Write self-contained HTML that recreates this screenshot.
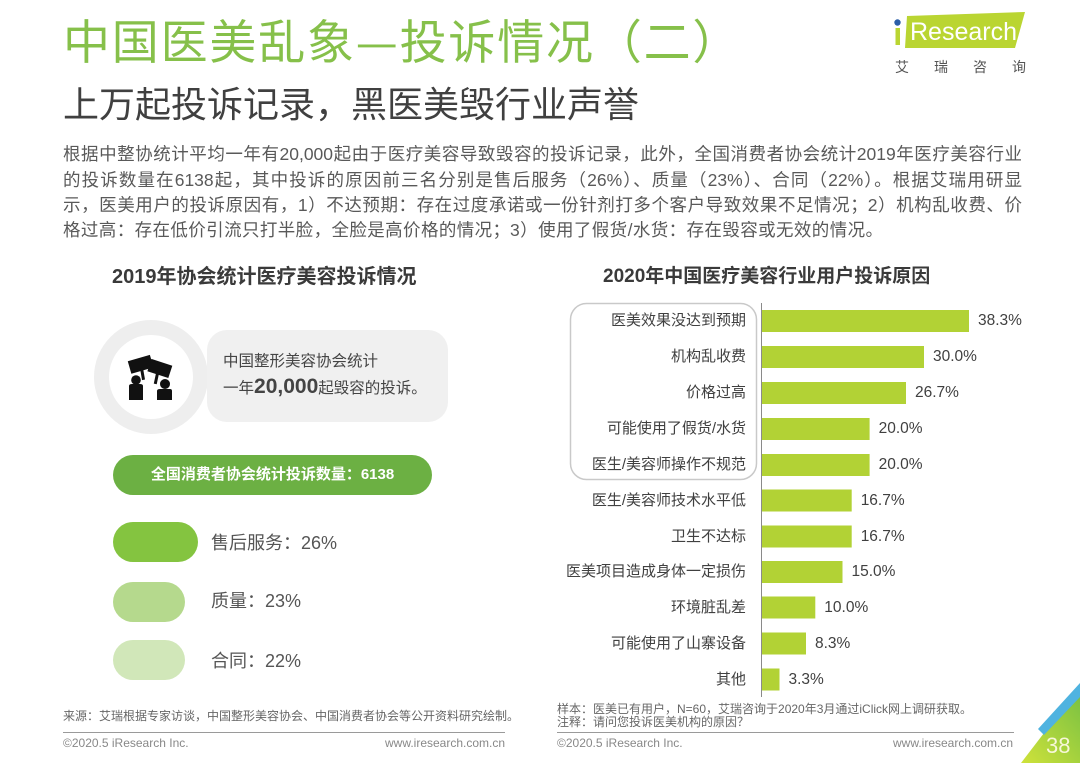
<!DOCTYPE html>
<html><head><meta charset="utf-8">
<style>
html,body{margin:0;padding:0;background:#fff;}
body{width:1080px;height:763px;position:relative;overflow:hidden;font-family:"Liberation Sans","Noto Sans CJK SC",sans-serif;}
.t{position:absolute;white-space:nowrap;}
.p{position:absolute;left:63px;font-size:17.5px;line-height:25.3px;height:25.3px;color:#595959;text-align:justify;text-align-last:justify;overflow:visible;}
.lb{position:absolute;right:334px;font-size:15px;line-height:20px;height:20px;color:#404040;text-align:right;white-space:nowrap;}
.v{position:absolute;font-size:15.5px;line-height:20px;height:20px;color:#404040;white-space:nowrap;}
</style></head><body>
<svg width="1080" height="763" style="position:absolute;left:0;top:0">
  <!-- logo -->
  <polygon points="907,16 1025,12 1015,48 905,48" fill="#bad532"/>
  <rect x="895.5" y="28" width="4.5" height="17" fill="#bad532"/>
  <circle cx="897.5" cy="22.5" r="3.2" fill="#2b5ea8"/>
  <!-- circle + rect -->
  <circle cx="151" cy="377" r="57" fill="#eeeeee"/>
  <circle cx="151" cy="377" r="42" fill="#ffffff"/>
  <rect x="207" y="330" width="241" height="92" rx="20" fill="#f0f0f0"/>
  <!-- icon -->
  <g fill="#111">
    <rect x="129" y="358" width="23" height="13" transform="rotate(-16 140 364)"/>
    <rect x="149" y="362" width="22" height="13" transform="rotate(18 160 368)"/>
    <rect x="141" y="368" width="3" height="12" transform="rotate(-10 142 374)"/>
    <rect x="155" y="372" width="3" height="12" transform="rotate(12 156 378)"/>
    <circle cx="136" cy="380" r="4.8"/>
    <path d="M129 386 q0 -2 3 -2 h8 q3 0 3 2 v14 h-14 z"/>
    <circle cx="165" cy="384" r="5"/>
    <path d="M157 391 q0 -2 3 -2 h10 q2 0 2 2 v9 h-15 z"/>
  </g>
  <!-- pills -->
  <rect x="113" y="455" width="319" height="40" rx="20" fill="#6cb043"/>
  <rect x="113" y="522" width="85" height="40" rx="20" fill="#84c440"/>
  <rect x="113" y="582" width="72" height="40" rx="20" fill="#b5d98d"/>
  <rect x="113" y="640" width="72" height="40" rx="20" fill="#d1e7b9"/>
  <!-- chart -->
  <rect x="570.5" y="303.5" width="186" height="176" rx="16" fill="none" stroke="#c9c9c9" stroke-width="1.5"/>
  <g fill="#b2d235">
    <rect x="761" y="310" width="208" height="22"/>
    <rect x="761" y="346" width="163" height="22"/>
    <rect x="761" y="382" width="145" height="22"/>
    <rect x="761" y="418" width="108.6" height="22"/>
    <rect x="761" y="454" width="108.6" height="22"/>
    <rect x="761" y="489.5" width="90.7" height="22"/>
    <rect x="761" y="525.5" width="90.7" height="22"/>
    <rect x="761" y="561" width="81.5" height="22"/>
    <rect x="761" y="596.5" width="54.3" height="22"/>
    <rect x="761" y="632.5" width="45" height="22"/>
    <rect x="761" y="668.5" width="18.5" height="22"/>
  </g>
  <line x1="761.5" y1="303" x2="761.5" y2="697" stroke="#8a8a8a" stroke-width="1"/>
  <!-- footer lines -->
  <line x1="63" y1="732.5" x2="505" y2="732.5" stroke="#9a9a9a" stroke-width="1"/>
  <line x1="557" y1="732.5" x2="1014" y2="732.5" stroke="#9a9a9a" stroke-width="1"/>
  <!-- corner -->
  <defs><linearGradient id="cg" x1="0" y1="1" x2="1" y2="0">
    <stop offset="0" stop-color="#cfe23a"/><stop offset="1" stop-color="#7cc242"/></linearGradient></defs>
  <polygon points="1044,733 1080,696 1080,763 1021,763" fill="url(#cg)"/>
  <polygon points="1038,729 1080,683 1080,697 1044,735" fill="#4fb3e0"/>
</svg>

<div class="t" style="left:63px;top:8.5px;font-family:'Noto Sans CJK SC',sans-serif;font-size:47px;line-height:60px;color:#86c04a;letter-spacing:1.8px;">中国医美乱象—投诉情况（二）</div>
<div class="t" style="left:63px;top:76.6px;font-family:'Noto Sans CJK SC',sans-serif;font-size:36px;line-height:50px;color:#404040;">上万起投诉记录，黑医美毁行业声誉</div>

<div class="t" style="left:910px;top:16px;font-size:25px;line-height:32px;color:#fff;">Research</div>
<div class="t" style="left:895px;top:57px;font-size:14px;line-height:20px;color:#555;letter-spacing:25px;">艾瑞咨询</div>

<div class="p" style="top:142.4px;width:959px;">根据中整协统计平均一年有20,000起由于医疗美容导致毁容的投诉记录，此外，全国消费者协会统计2019年医疗美容行业</div>
<div class="p" style="top:167.7px;width:959px;">的投诉数量在6138起，其中投诉的原因前三名分别是售后服务（26%）、质量（23%）、合同（22%）。根据艾瑞用研显</div>
<div class="p" style="top:193px;width:959px;">示，医美用户的投诉原因有，1）不达预期：存在过度承诺或一份针剂打多个客户导致效果不足情况；2）机构乱收费、价</div>
<div class="p" style="top:218.3px;width:820px;">格过高：存在低价引流只打半脸，全脸是高价格的情况；3）使用了假货/水货：存在毁容或无效的情况。</div>

<div class="t" style="left:112px;top:264px;font-size:20px;line-height:26px;font-weight:bold;color:#3a3a3a;">2019年协会统计医疗美容投诉情况</div>
<div class="t" style="left:603px;top:264px;font-size:19px;line-height:26px;font-weight:bold;color:#3a3a3a;">2020年中国医疗美容行业用户投诉原因</div>

<div class="t" style="left:223px;top:352px;font-size:15.5px;line-height:20px;color:#444;">中国整形美容协会统计</div>
<div class="t" style="left:223px;top:374px;font-size:15.5px;line-height:26px;color:#444;">一年<b style="font-size:21px;">20,000</b>起毁容的投诉。</div>

<div class="t" style="left:113px;top:465px;width:319px;text-align:center;font-size:15px;line-height:20px;font-weight:bold;color:#fff;">全国消费者协会统计投诉数量：6138</div>

<div class="t" style="left:211px;top:531px;font-size:18px;line-height:24px;color:#555;">售后服务：26%</div>
<div class="t" style="left:211px;top:589px;font-size:18px;line-height:24px;color:#555;">质量：23%</div>
<div class="t" style="left:211px;top:649px;font-size:18px;line-height:24px;color:#555;">合同：22%</div>

<div class="lb" style="top:311px;">医美效果没达到预期</div>
<div class="lb" style="top:347px;">机构乱收费</div>
<div class="lb" style="top:383px;">价格过高</div>
<div class="lb" style="top:419px;">可能使用了假货/水货</div>
<div class="lb" style="top:455px;">医生/美容师操作不规范</div>
<div class="lb" style="top:490.5px;">医生/美容师技术水平低</div>
<div class="lb" style="top:526.5px;">卫生不达标</div>
<div class="lb" style="top:562px;">医美项目造成身体一定损伤</div>
<div class="lb" style="top:597.5px;">环境脏乱差</div>
<div class="lb" style="top:633.5px;">可能使用了山寨设备</div>
<div class="lb" style="top:669.5px;">其他</div>

<div class="v" style="left:978px;top:311px;">38.3%</div>
<div class="v" style="left:933px;top:347px;">30.0%</div>
<div class="v" style="left:915px;top:383px;">26.7%</div>
<div class="v" style="left:878.6px;top:419px;">20.0%</div>
<div class="v" style="left:878.6px;top:455px;">20.0%</div>
<div class="v" style="left:860.7px;top:490.5px;">16.7%</div>
<div class="v" style="left:860.7px;top:526.5px;">16.7%</div>
<div class="v" style="left:851.5px;top:562px;">15.0%</div>
<div class="v" style="left:824.3px;top:597.5px;">10.0%</div>
<div class="v" style="left:815px;top:633.5px;">8.3%</div>
<div class="v" style="left:788.5px;top:669.5px;">3.3%</div>

<div class="t" style="left:63px;top:708px;font-size:12px;line-height:16px;color:#666;">来源：艾瑞根据专家访谈，中国整形美容协会、中国消费者协会等公开资料研究绘制。</div>
<div class="t" style="left:63px;top:735px;font-size:12px;line-height:16px;color:#888;">©2020.5 iResearch Inc.</div>
<div class="t" style="left:385px;width:120px;text-align:right;top:735px;font-size:12px;line-height:16px;color:#888;">www.iresearch.com.cn</div>

<div class="t" style="left:557px;top:701px;font-size:12px;line-height:16px;color:#666;">样本：医美已有用户，N=60，艾瑞咨询于2020年3月通过iClick网上调研获取。</div>
<div class="t" style="left:557px;top:714px;font-size:12px;line-height:16px;color:#666;">注释：请问您投诉医美机构的原因？</div>
<div class="t" style="left:557px;top:735px;font-size:12px;line-height:16px;color:#888;">©2020.5 iResearch Inc.</div>
<div class="t" style="left:893px;width:120px;text-align:right;top:735px;font-size:12px;line-height:16px;color:#888;">www.iresearch.com.cn</div>

<div class="t" style="left:1046px;top:733px;font-size:22px;line-height:26px;color:#f7f7d8;">38</div>
</body></html>
